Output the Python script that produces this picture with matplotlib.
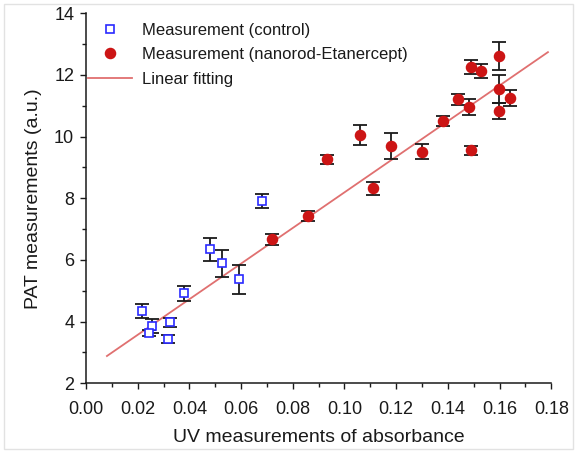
import matplotlib
matplotlib.use("Agg")
import matplotlib.pyplot as plt
from matplotlib.patches import Rectangle
from matplotlib.ticker import MultipleLocator, FormatStrFormatter
from matplotlib.lines import Line2D

plt.rcParams['font.family'] = ['Liberation Sans', 'DejaVu Sans']

# Control measurements
ctrl_x = [0.0218, 0.0256, 0.0245, 0.0325, 0.0318, 0.0379, 0.0480, 0.0527, 0.0592, 0.0680]
ctrl_y = [4.34, 3.86, 3.62, 3.98, 3.44, 4.92, 6.34, 5.89, 5.37, 7.92]
ctrl_err = [0.22, 0.24, 0.10, 0.14, 0.12, 0.25, 0.38, 0.44, 0.47, 0.22]

# Nanorod-Etanercept measurements
nano_x = [0.0718, 0.0858, 0.0931, 0.1060, 0.1109, 0.1179, 0.1299, 0.1380, 0.1440,
          0.1482, 0.1489, 0.1528, 0.1489, 0.1599, 0.1599, 0.1599, 0.1640]
nano_y = [6.67, 7.43, 9.26, 10.05, 8.32, 9.70, 9.51, 10.50, 11.21,
          10.97, 12.26, 12.13, 9.56, 12.61, 11.54, 10.83, 11.24]
nano_err = [0.18, 0.17, 0.16, 0.32, 0.20, 0.43, 0.25, 0.17, 0.18,
            0.26, 0.24, 0.24, 0.14, 0.45, 0.45, 0.25, 0.26]

# Linear fit endpoints
fit_x = [0.0081, 0.1787]
fit_y = [2.885, 12.74]

xticks = [0.00, 0.02, 0.04, 0.06, 0.08, 0.10, 0.12, 0.14, 0.16, 0.18]
yticks = [2, 4, 6, 8, 10, 12, 14]

W, H = 577, 453
fig = plt.figure(figsize=(W / 100, H / 100), dpi=100)
ax = fig.add_axes([86 / W, (H - 383.3) / H, (551.3 - 86) / W, (383.3 - 13.3) / H])

ax.plot(fit_x, fit_y, color='#e07070', lw=1.3, zorder=1)

ax.errorbar(ctrl_x, ctrl_y, yerr=ctrl_err, fmt='none', ecolor='#1a1a1a',
            elinewidth=1.3, capsize=5, capthick=1.3, zorder=2)
ax.errorbar(nano_x, nano_y, yerr=nano_err, fmt='none', ecolor='#1a1a1a',
            elinewidth=1.3, capsize=5, capthick=1.3, zorder=2)
ax.plot(ctrl_x, ctrl_y, ls='none', marker='s', ms=5.4, mfc='white',
        mec='#2a2aff', mew=1.2, zorder=3)
ax.plot(nano_x, nano_y, ls='none', marker='o', ms=7.3, mfc='#cc1515',
        mec='#cc1515', zorder=3)

ax.set_xlim(0, 0.18)
ax.set_ylim(2, 14)
ax.set_xticks(xticks)
ax.set_yticks(yticks)
ax.xaxis.set_major_formatter(FormatStrFormatter('%.2f'))
ax.xaxis.set_minor_locator(MultipleLocator(0.01))
ax.yaxis.set_minor_locator(MultipleLocator(1))
ax.tick_params(which='major', direction='out', length=4.5, width=1, labelsize=13,
               colors='#1a1a1a')
ax.tick_params(axis='x', which='major', pad=8)
ax.tick_params(axis='y', which='major', pad=4)
ax.tick_params(which='minor', direction='out', length=3, width=1, colors='#1a1a1a')
for s in ['top', 'right']:
    ax.spines[s].set_visible(False)
for s in ['left', 'bottom']:
    ax.spines[s].set_linewidth(1.1)
    ax.spines[s].set_color('#1a1a1a')

ax.set_xlabel('UV measurements of absorbance', fontsize=14, color='#1a1a1a', labelpad=8)
ax.set_ylabel('PAT measurements (a.u.)', fontsize=14, color='#1a1a1a', labelpad=9)

handles = [
    Line2D([], [], ls='none', marker='s', ms=5.4, mfc='white', mec='#2a2aff', mew=1.2),
    Line2D([], [], ls='none', marker='o', ms=7.3, mfc='#cc1515', mec='#cc1515'),
    Line2D([], [], color='#e07070', lw=1.3),
]
labels = ['Measurement (control)', 'Measurement (nanorod-Etanercept)', 'Linear fitting']
leg = ax.legend(handles, labels, loc='upper left', bbox_to_anchor=(88 / W, 1 - 23 / H),
                bbox_transform=fig.transFigure, frameon=False, fontsize=12,
                handlelength=2.65, handletextpad=0.6, labelspacing=0.56,
                borderpad=0, borderaxespad=0)
for t in leg.get_texts():
    t.set_color('#1a1a1a')

fig.patches.append(Rectangle((4 / W, 4 / H), 1 - 8 / W, 1 - 8 / H, transform=fig.transFigure,
                             fill=False, edgecolor='#e2e2e2', lw=1, zorder=0))

fig.savefig('out.png', dpi=100)
